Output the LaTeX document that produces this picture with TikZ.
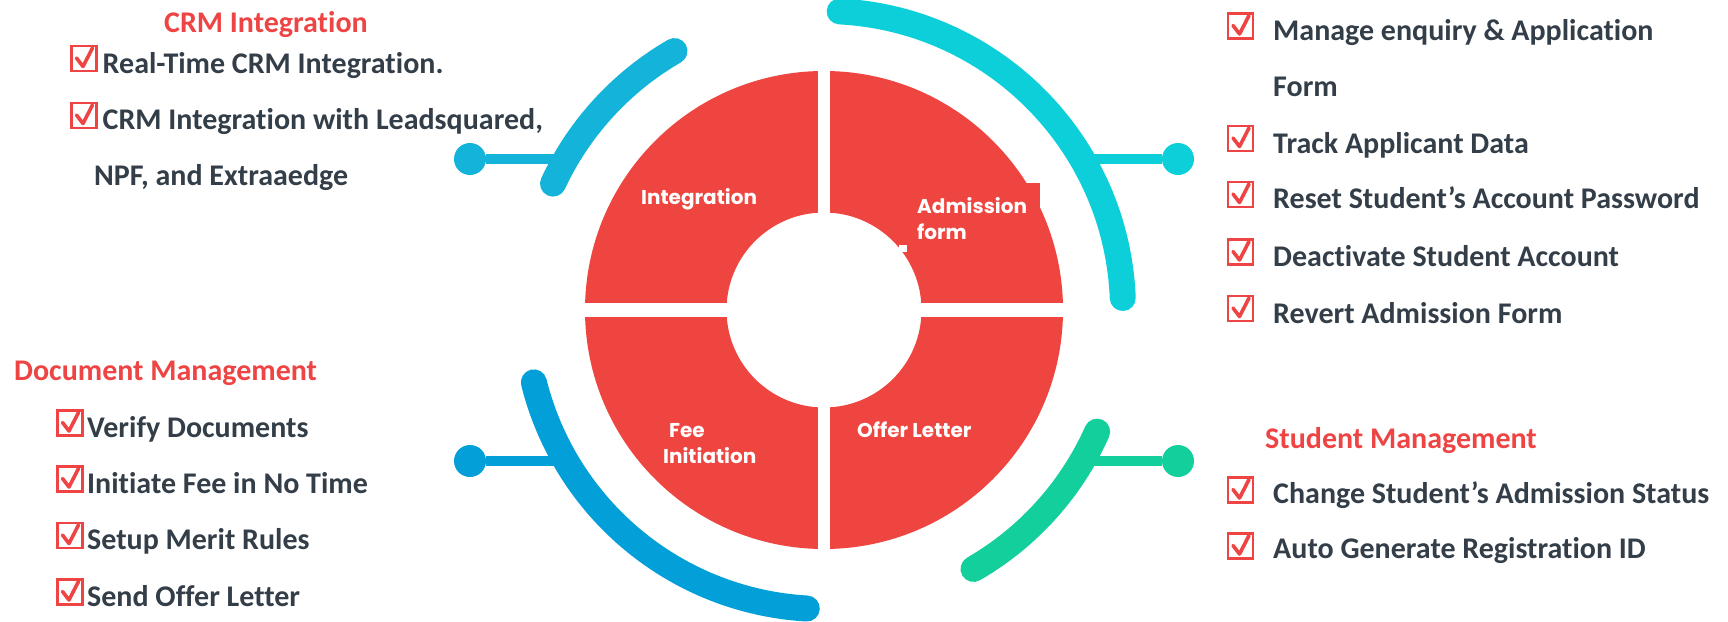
\documentclass[tikz,border=0pt]{standalone}
\usepackage{fontspec}
\setmainfont{Carlito}[Ligatures={NoCommon}]
\newfontfamily\ringfont{Poppins}
\usetikzlibrary{calc}
\definecolor{ringred}{HTML}{EE4540}
\definecolor{headred}{HTML}{EE4444}
\definecolor{txt}{HTML}{333E48}
\definecolor{cTL}{HTML}{14B4DA}
\definecolor{cTR}{HTML}{0DCFDA}
\definecolor{cBL}{HTML}{029FD8}
\definecolor{cBR}{HTML}{12CF9C}
\begin{document}
\begin{tikzpicture}[x=1pt,y=-1pt,
  item/.style={anchor=base west, inner sep=0pt, text=txt, font=\fontsize{30}{32}\selectfont\bfseries},
  head/.style={anchor=base west, inner sep=0pt, text=headred, font=\fontsize{30}{32}\selectfont\bfseries},
  ringlbl/.style={anchor=base west, inner sep=0pt, text=white, font=\ringfont\fontsize{20}{24}\selectfont\bfseries},
  chkbox/.style={draw=headred, line width=2.2pt, minimum width=25pt, minimum height=25pt, inner sep=0pt,
    path picture={\draw[headred, line width=3.6pt, line cap=round, line join=round]
      ([xshift=5pt,yshift=13pt]path picture bounding box.south west) --
      ([xshift=11.5pt,yshift=4.5pt]path picture bounding box.south west) --
      ([xshift=21pt,yshift=23pt]path picture bounding box.south west);}},
  dot/.style={circle, fill=#1, minimum size=32pt, inner sep=0pt},
  arcband/.style={line width=26pt, line cap=round, draw=#1},
  link/.style={line width=10pt, draw=#1}
]
\useasboundingbox (0,0) rectangle (1728,621);
% ring
\fill[ringred, even odd rule] (824,310) circle[radius=239] (824,310) circle[radius=97.5];
\fill[white] (817.5,60) rectangle (830,560);
\fill[white] (575,303) rectangle (1075,317);
\fill[ringred] (1020,183) rectangle (1040,207);
\fill[white] (899,245) rectangle (907,252);
% ring labels
\node[ringlbl] (lint) at (641,204) {Integration};
\node[ringlbl] (ladm) at (917,213) {Admission};
\node[ringlbl] (lform) at (917,239) {form};
\node[ringlbl] (lfee) at (669,437) {Fee};
\node[ringlbl] (linit) at (663,463) {Initiation};
\node[ringlbl] (loff) at (857,437) {Offer Letter};
% arcs
\draw[arcband=cTL] (824,310) ++(-120:299) arc[start angle=-120, end angle=-155, radius=299];
\draw[arcband=cTR] (824,310) ++(-87:299) arc[start angle=-87, end angle=-2.3, radius=299];
\draw[arcband=cBL] (824,310) ++(166:299) arc[start angle=166, end angle=93.3, radius=299];
\draw[arcband=cBR] (824,310) ++(24:299) arc[start angle=24, end angle=60, radius=299];
% connectors
\node[dot=cTL] (dTL) at (470,159) {};
\node[dot=cTR] (dTR) at (1178,159) {};
\node[dot=cBL] (dBL) at (470,461) {};
\node[dot=cBR] (dBR) at (1178,461) {};
\coordinate (aTL) at (570,159);
\coordinate (aTR) at (1078,159);
\coordinate (aBL) at (570,461);
\coordinate (aBR) at (1078,461);
\draw[link=cTL] (dTL) -- (aTL);
\draw[link=cTR] (dTR) -- (aTR);
\draw[link=cBL] (dBL) -- (aBL);
\draw[link=cBR] (dBR) -- (aBR);
% CRM Integration
\node[head] (hcrm) at (164,32) {CRM Integration};
\node[chkbox] (k1) at (84,58.5) {};
\node[item] (t1) at (102.5,73) {Real-Time CRM Integration.};
\node[chkbox] (k2) at (84,115.5) {};
\node[item] (t2) at (102.5,129) {CRM Integration with Leadsquared,};
\node[item] (t3) at (94,185) {NPF, and Extraaedge};
% Admission
\node[chkbox] (k4) at (1240.5,26) {};
\node[item] (t4) at (1273,40) {Manage enquiry \& Application};
\node[item] (t4b) at (1273,96) {Form};
\node[chkbox] (k5) at (1240.5,138.5) {};
\node[item] (t5) at (1273,153) {Track Applicant Data};
\node[chkbox] (k6) at (1240.5,194.5) {};
\node[item] (t6) at (1273,208) {Reset Student’s Account Password};
\node[chkbox] (k7) at (1240.5,252) {};
\node[item] (t7) at (1273,266) {Deactivate Student Account};
\node[chkbox] (k8) at (1240.5,308.5) {};
\node[item] (t8) at (1273,323) {Revert Admission Form};
% Document Management
\node[head] (hdoc) at (14,380) {Document Management};
\node[chkbox] (k9) at (70,423) {};
\node[item] (t9) at (87,437) {Verify Documents};
\node[chkbox] (k10) at (70,479) {};
\node[item] (t10) at (87,493) {Initiate Fee in No Time};
\node[chkbox] (k11) at (70,535.5) {};
\node[item] (t11) at (87,549) {Setup Merit Rules};
\node[chkbox] (k12) at (70,592) {};
\node[item] (t12) at (87,606) {Send Offer Letter};
% Student Management
\node[head] (hstu) at (1265,448) {Student Management};
\node[chkbox] (k13) at (1240.5,490) {};
\node[item] (t13) at (1273,503) {Change Student’s Admission Status};
\node[chkbox] (k14) at (1240.5,546) {};
\node[item] (t14) at (1273,558) {Auto Generate Registration ID};
\end{tikzpicture}
\end{document}
